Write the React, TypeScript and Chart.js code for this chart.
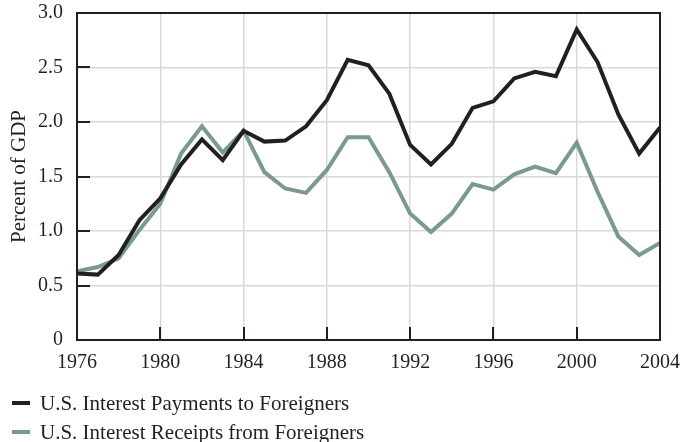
import React, { useEffect, useRef } from 'react';
import { Chart, registerables } from 'chart.js';

Chart.register(...registerables);

const years = [1976, 1977, 1978, 1979, 1980, 1981, 1982, 1983, 1984, 1985, 1986, 1987, 1988, 1989, 1990, 1991, 1992, 1993, 1994, 1995, 1996, 1997, 1998, 1999, 2000, 2001, 2002, 2003, 2004];
const payments = [0.61, 0.60, 0.78, 1.10, 1.30, 1.61, 1.84, 1.65, 1.92, 1.82, 1.83, 1.96, 2.20, 2.57, 2.52, 2.26, 1.79, 1.61, 1.80, 2.13, 2.19, 2.40, 2.46, 2.42, 2.85, 2.55, 2.07, 1.71, 1.95];
const receipts = [0.63, 0.67, 0.75, 1.01, 1.25, 1.71, 1.96, 1.72, 1.92, 1.54, 1.39, 1.35, 1.56, 1.86, 1.86, 1.54, 1.16, 0.99, 1.16, 1.43, 1.38, 1.52, 1.59, 1.53, 1.81, 1.36, 0.95, 0.78, 0.89];
const yTicks = [0, 0.5, 1.0, 1.5, 2.0, 2.5, 3.0];
const xTicks = [1976, 1980, 1984, 1988, 1992, 1996, 2000, 2004];
const seriesNames = ['U.S. Interest Payments to Foreigners', 'U.S. Interest Receipts from Foreigners'];
const yTitle = 'Percent of GDP';

const DARK = '#231f20';
const GREEN = '#7a9a8a';
const FONT = "'Liberation Serif', 'DejaVu Serif', serif";

const framePlugin = {
  id: 'frame',
  afterDatasetsDraw(chart: any) {
    const { ctx, chartArea: a, scales } = chart;
    ctx.save();
    ctx.strokeStyle = DARK;
    ctx.lineWidth = 2;
    ctx.beginPath();
    for (const v of yTicks) {
      if (v <= 0 || v >= 3) continue;
      const y = Math.round(scales.y.getPixelForValue(v));
      ctx.moveTo(a.left, y);
      ctx.lineTo(a.left + 13, y);
    }
    for (const v of xTicks) {
      if (v <= 1976 || v >= 2004) continue;
      const x = Math.round(scales.x.getPixelForValue(v));
      ctx.moveTo(x, a.bottom);
      ctx.lineTo(x, a.bottom - 13);
    }
    ctx.stroke();
    ctx.strokeRect(a.left, a.top, a.right - a.left, a.bottom - a.top);
    ctx.restore();
  },
};

export default function App() {
  const ref = useRef<HTMLCanvasElement | null>(null);

  useEffect(() => {
    if (!ref.current) return;
    const chart = new Chart(ref.current, {
      type: 'line',
      data: {
        datasets: [
          {
            label: seriesNames[0],
            data: years.map((x, i) => ({ x, y: payments[i] })),
            borderColor: DARK,
            backgroundColor: DARK,
            borderWidth: 4,
            pointRadius: 0,
            tension: 0,
          },
          {
            label: seriesNames[1],
            data: years.map((x, i) => ({ x, y: receipts[i] })),
            borderColor: GREEN,
            backgroundColor: GREEN,
            borderWidth: 4,
            pointRadius: 0,
            tension: 0,
          },
        ],
      },
      options: {
        animation: false,
        responsive: true,
        maintainAspectRatio: false,
        layout: { padding: { left: 0, top: 13, right: 23, bottom: 72 } },
        plugins: {
          legend: { display: false },
          tooltip: { enabled: false },
        },
        scales: {
          x: {
            type: 'linear',
            min: 1976,
            max: 2004,
            afterFit: (s: any) => { s.height = 30; s.paddingLeft = 0; s.paddingRight = 0; },
            afterBuildTicks: (s: any) => { s.ticks = xTicks.map((v) => ({ value: v })); },
            ticks: {
              autoSkip: false,
              maxRotation: 0,
              padding: 11,
              color: DARK,
              font: { family: FONT, size: 20 },
              callback: (v: any) => String(v),
            },
            grid: { color: '#d9d9d9', lineWidth: 1.5, drawTicks: false },
            border: { display: false },
          },
          y: {
            min: 0,
            max: 3,
            afterFit: (s: any) => { s.width = 77; s.paddingTop = 0; s.paddingBottom = 0; },
            afterBuildTicks: (s: any) => { s.ticks = yTicks.map((v) => ({ value: v })); },
            ticks: {
              padding: 14,
              color: DARK,
              font: { family: FONT, size: 20 },
              callback: (v: any) => (v === 0 ? '0' : Number(v).toFixed(1)),
            },
            grid: { color: '#d9d9d9', lineWidth: 1.5, drawTicks: false },
            border: { display: false },
            title: {
              display: true,
              text: yTitle,
              color: DARK,
              font: { family: FONT, size: 21 },
              padding: { top: 7, bottom: 0 },
            },
          },
        },
      },
      plugins: [framePlugin],
    });
    return () => chart.destroy();
  }, []);

  const legendColors = [DARK, GREEN];

  return (
    <div style={{ position: 'fixed', left: 0, top: 0, width: 683, height: 442, background: '#fff' }}>
      <canvas ref={ref} />
      {seriesNames.map((name, i) => (
        <div
          key={name}
          style={{
            position: 'absolute',
            left: 0,
            top: 390 + i * 29,
            height: 26,
            display: 'flex',
            alignItems: 'center',
            fontFamily: FONT,
            fontSize: 21,
            color: DARK,
            whiteSpace: 'nowrap',
          }}
        >
          <span style={{ display: 'inline-block', width: 18, height: 4, background: legendColors[i], marginLeft: 12, marginRight: 10 }} />
          <span>{name}</span>
        </div>
      ))}
    </div>
  );
}
